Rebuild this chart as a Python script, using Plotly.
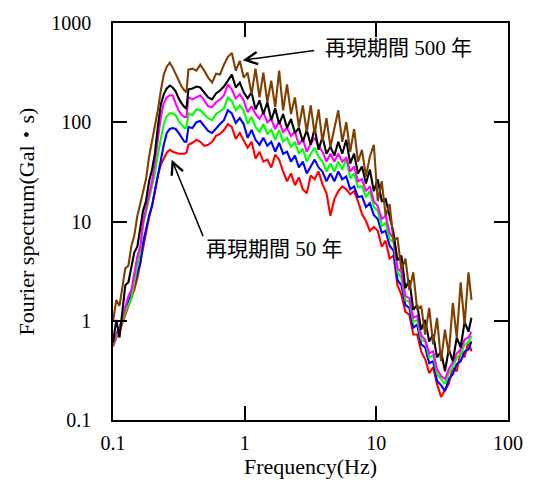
import numpy as np
import plotly.graph_objects as go

# Frequency (Hz)
freq = [
    0.1, 0.106, 0.112, 0.118, 0.124, 0.131, 0.138, 0.145, 0.153, 0.161,
    0.169, 0.178, 0.188, 0.198, 0.208, 0.219, 0.231, 0.243, 0.256, 0.270,
    0.284, 0.299, 0.315, 0.332, 0.349, 0.361, 0.374, 0.401, 0.430, 0.460,
    0.493, 0.528, 0.566, 0.606, 0.650, 0.696, 0.746, 0.799, 0.856, 0.918,
    0.983, 1.053, 1.128, 1.209, 1.295, 1.387, 1.486, 1.592, 1.706, 1.828,
    1.958, 2.098, 2.248, 2.409, 2.581, 2.765, 2.962, 3.174, 3.40, 3.64,
    3.90, 4.18, 4.48, 4.80, 5.14, 5.51, 5.91, 6.33, 6.78, 7.26,
    7.78, 8.34, 8.93, 9.57, 10.25, 10.99, 11.77, 12.61, 13.51, 14.48,
    15.51, 16.62, 17.81, 19.08, 20.44, 21.9, 23.5, 25.2, 27.0, 28.9,
    31.0, 33.2, 35.5, 38.1, 40.8, 43.7, 46.8, 50.1, 52.8,
]

# Fourier spectra (Gal*s) for several return periods
spec_red = [
    0.551, 0.677, 0.776, 0.977, 1.15, 1.41, 1.69, 2.04, 2.68, 3.87,
    5.09, 7.69, 11.1, 14.6, 21.1, 29.1, 37.5, 43.0, 49.3, 52.8,
    50.5, 49.3, 48.2, 48.2, 48.2, 49.3, 59.3, 62.1, 66.5, 63.5,
    57.9, 59.3, 63.5, 72.9, 76.2, 83.6, 95.9, 89.5, 68.0, 78.0,
    66.5, 55.3, 63.5, 43.0, 50.5, 40.1, 42.0, 35.0, 47.1, 42.0,
    31.9, 25.4, 30.5, 23.2, 27.8, 21.1, 19.3, 29.1, 26.6, 31.9,
    23.7, 19.3, 11.4, 16.8, 20.2, 22.6, 21.1, 18.8, 20.2, 16.0,
    11.9, 10.1, 8.06, 8.83, 8.06, 5.58, 6.41, 4.24, 4.54, 2.28,
    1.82, 1.23, 1.15, 0.726, 0.726, 0.491, 0.409, 0.297, 0.340, 0.231,
    0.171, 0.196, 0.231, 0.340, 0.310, 0.491, 0.428, 0.618, 0.491,
]
spec_blue = [
    0.577, 0.726, 0.851, 1.07, 1.29, 1.55, 1.86, 2.39, 3.08, 3.78,
    6.12, 8.44, 11.4, 14.3, 20.2, 26.6, 38.4, 59.3, 78.0, 85.5,
    87.5, 85.5, 78.0, 69.6, 63.5, 63.5, 89.5, 87.5, 100, 103,
    91.6, 81.7, 78.0, 87.5, 95.9, 105, 132, 123, 98.2, 110,
    95.9, 69.6, 83.6, 66.5, 59.3, 69.6, 57.9, 63.5, 50.5, 62.1,
    48.2, 50.5, 40.1, 46.1, 35.0, 40.1, 30.5, 35.8, 42.0, 35.0,
    31.9, 25.4, 30.5, 25.4, 31.9, 26.6, 28.4, 21.1, 22.6, 17.6,
    18.0, 14.0, 15.3, 11.6, 10.6, 7.69, 8.06, 5.71, 5.09, 2.56,
    2.28, 1.44, 1.35, 0.851, 0.912, 0.577, 0.538, 0.373, 0.391, 0.247,
    0.225, 0.196, 0.258, 0.290, 0.365, 0.391, 0.491, 0.514, 0.618,
]
spec_green = [
    0.577, 0.709, 0.813, 1.02, 1.23, 1.44, 1.69, 2.44, 3.61, 5.09,
    9.04, 12.2, 16.8, 22.6, 30.5, 47.0, 69.6, 95.9, 115, 123,
    123, 118, 103, 93.8, 87.5, 87.5, 123, 118, 135, 132,
    121, 110, 105, 121, 129, 138, 178, 163, 132, 148,
    132, 95.9, 113, 89.5, 79.8, 95.9, 76.2, 83.6, 66.5, 83.6,
    63.5, 69.6, 56.6, 63.5, 48.2, 54.1, 40.1, 48.2, 55.3, 45.0,
    40.1, 31.9, 38.4, 31.9, 40.1, 33.4, 43.0, 27.2, 30.5, 22.1,
    22.6, 17.6, 20.2, 14.0, 12.8, 9.04, 9.68, 6.71, 6.12, 3.08,
    2.68, 1.62, 1.55, 0.977, 1.02, 0.647, 0.618, 0.428, 0.448, 0.290,
    0.258, 0.231, 0.297, 0.340, 0.428, 0.458, 0.577, 0.604, 0.709,
]
spec_magenta = [
    0.590, 0.743, 0.851, 1.07, 1.41, 1.77, 2.04, 2.87, 4.44, 5.58,
    9.68, 13.6, 18.8, 25.4, 40.1, 63.5, 113, 155, 178, 187,
    187, 155, 132, 118, 113, 113, 178, 170, 178, 187,
    166, 145, 142, 159, 170, 187, 240, 214, 174, 191,
    166, 126, 145, 121, 108, 126, 100, 108, 85.5, 103,
    79.8, 87.5, 72.9, 79.8, 59.3, 68.0, 50.5, 60.7, 69.6, 57.9,
    50.5, 40.1, 48.2, 40.1, 48.2, 40.1, 44.0, 31.9, 35.8, 25.4,
    26.6, 20.2, 22.6, 16.0, 14.3, 10.6, 11.4, 7.69, 6.71, 3.37,
    3.08, 1.77, 1.69, 1.07, 1.12, 0.709, 0.647, 0.469, 0.491, 0.325,
    0.277, 0.258, 0.325, 0.382, 0.469, 0.514, 0.647, 0.677, 0.776,
]
spec_black = [
    0.604, 1.02, 0.677, 1.29, 2.28, 2.44, 3.61, 4.86, 5.58, 9.04,
    12.8, 16.0, 25.4, 33.4, 48.2, 89.5, 152, 191, 219, 234,
    224, 205, 174, 155, 142, 138, 214, 219, 229, 224,
    200, 178, 170, 195, 209, 229, 263, 302, 224, 251,
    200, 174, 200, 135, 166, 121, 159, 105, 138, 95.9,
    121, 87.5, 108, 78.0, 87.5, 63.5, 83.6, 59.3, 87.5, 52.8,
    71.2, 48.2, 56.6, 46.1, 63.5, 48.2, 66.5, 38.4, 48.2, 30.5,
    35.8, 24.2, 33.4, 20.2, 26.6, 16.0, 16.8, 11.4, 7.69, 4.05,
    4.54, 2.13, 2.56, 1.29, 1.44, 0.813, 1.02, 0.618, 0.726, 0.428,
    0.491, 0.310, 0.514, 0.391, 0.677, 0.538, 0.977, 0.776, 1.07,
]
spec_brown = [
    0.977, 1.62, 1.41, 2.28, 3.37, 3.61, 5.71, 7.19, 11.4, 15.0,
    19.3, 26.6, 45.0, 63.5, 93.8, 132, 209, 302, 363, 398,
    355, 309, 269, 229, 209, 200, 339, 347, 331, 380,
    331, 282, 251, 309, 302, 380, 456, 500, 331, 416,
    282, 316, 191, 347, 178, 316, 159, 263, 142, 331,
    132, 240, 121, 178, 89.5, 148, 79.8, 148, 76.2, 135,
    63.5, 110, 56.6, 87.5, 132, 63.5, 100, 50.5, 85.5, 40.1,
    52.8, 28.4, 45.0, 59.3, 16.0, 25.4, 11.4, 15.0, 6.41, 6.87,
    3.22, 4.24, 2.04, 3.08, 1.29, 1.41, 0.726, 1.35, 0.577, 1.07,
    0.391, 0.813, 0.459, 1.51, 0.677, 2.44, 0.912, 3.08, 1.62,
]

series = [
    (spec_red, "#ff0000"),
    (spec_blue, "#0000ff"),
    (spec_green, "#00ff00"),
    (spec_magenta, "#ff00ff"),
    (spec_black, "#000000"),
    (spec_brown, "#7f3f00"),
]

x_ticks = [0.1, 1, 10, 100]
x_tick_text = ["0.1", "1", "10", "100"]
y_ticks = [0.1, 1, 10, 100, 1000]
y_tick_text = ["0.1", "1", "10", "100", "1000"]

label_500 = "再現期間 500 年"
label_50 = "再現期間 50 年"

SERIF = "Liberation Serif, 'Noto Sans CJK JP', serif"

fig = go.Figure()
for vals, col in series:
    fig.add_trace(go.Scatter(x=freq, y=vals, mode="lines",
                             line=dict(color=col, width=2.1),
                             hoverinfo="skip", showlegend=False))

axis_common = dict(
    type="log", showgrid=False, zeroline=False,
    showline=True, linecolor="black", linewidth=1.5, mirror="ticks",
    ticks="inside", ticklen=14, tickwidth=1.5, tickcolor="black",
    tickfont=dict(family=SERIF, size=20, color="black"),
)

fig.update_layout(
    width=535, height=486,
    margin=dict(l=113, r=22, t=19, b=65),
    paper_bgcolor="white", plot_bgcolor="white",
    font=dict(family=SERIF, size=20, color="black"),
    xaxis=dict(axis_common, range=[-1, 2], tickvals=x_ticks, ticktext=x_tick_text,
               ticklabelstandoff=4,
               title=dict(text="Frequency(Hz)", standoff=5,
                          font=dict(family=SERIF, size=22, color="black"))),
    yaxis=dict(axis_common, range=[-1, 3], tickvals=y_ticks, ticktext=y_tick_text,
               ticklabelstandoff=16,
               title=dict(text="Fourier spectrum(Gal・s)", standoff=11,
                          font=dict(family=SERIF, size=22, color="black"))),
)

ann_font = dict(family=SERIF, size=21, color="black")
fig.add_annotation(x=np.log10(14.7), y=np.log10(561), xref="x", yref="y",
                   text=label_500, showarrow=False, font=ann_font)
fig.add_annotation(x=np.log10(1.677), y=np.log10(5.33), xref="x", yref="y",
                   text=label_50, showarrow=False, font=ann_font)
fig.add_annotation(x=np.log10(0.966), y=np.log10(422), xref="x", yref="y",
                   text="", showarrow=True, ax=73, ay=-10,
                   arrowhead=5, arrowsize=1.6, arrowwidth=1.5, arrowcolor="black",
                   standoff=0, startstandoff=0)
fig.add_annotation(x=np.log10(0.279), y=np.log10(42), xref="x", yref="y",
                   text="", showarrow=True, ax=32, ay=78,
                   arrowhead=5, arrowsize=1.6, arrowwidth=1.5, arrowcolor="black",
                   standoff=0, startstandoff=0)

fig.write_html("out.html")
